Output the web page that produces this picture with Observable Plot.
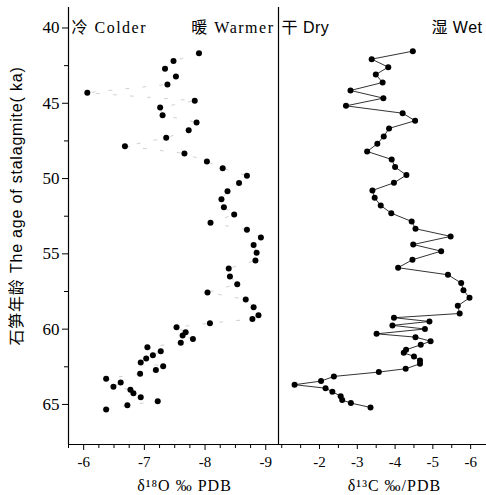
<!DOCTYPE html>
<html>
<head>
<meta charset="utf-8">
<script src="https://cdn.jsdelivr.net/npm/d3@7"></script>
<script src="https://cdn.jsdelivr.net/npm/@observablehq/plot@0.6"></script>
<style>
  body { margin: 0; background: white; }
  #wrap { position: relative; width: 486px; height: 495px; overflow: hidden; background: white; }
  #wrap > svg { position: absolute; top: 0; }
</style>
</head>
<body>
<div id="wrap"></div>
<script>
// δ18O panel (age ka, δ18O ‰ PDB)
const o18Age = [41.67,42.2,42.71,43.22,43.75,44.3,44.83,45.28,45.79,46.27,46.79,47.29,47.85,48.33,48.86,49.31,49.82,50.3,50.84,51.37,51.9,52.38,52.94,53.4,53.91,54.42,54.93,55.44,55.97,56.5,57.01,57.56,58.03,58.54,59.07,59.33,59.6,59.87,60.2,60.42,60.66,60.9,61.2,61.46,61.73,61.95,62.21,62.46,62.72,62.96,63.29,63.54,63.83,64.02,64.25,64.52,64.78,65.05,65.33];
const o18Val = [-7.90,-7.48,-7.34,-7.52,-7.38,-6.06,-7.83,-7.26,-7.30,-7.86,-7.73,-7.36,-6.68,-7.66,-8.03,-8.29,-8.69,-8.56,-8.37,-8.27,-8.31,-8.48,-8.09,-8.69,-8.92,-8.80,-8.85,-8.83,-8.39,-8.41,-8.53,-8.04,-8.67,-8.80,-8.88,-8.78,-8.08,-7.53,-7.68,-7.63,-7.80,-7.60,-7.05,-7.27,-7.14,-7.03,-6.94,-7.31,-7.19,-6.93,-6.37,-6.61,-6.49,-6.77,-6.82,-6.94,-7.22,-6.72,-6.37];

// δ13C panel (age ka, δ13C ‰ PDB)
const c13Age = [41.54,42.07,42.6,43.09,43.62,44.15,44.66,45.17,45.66,46.16,46.67,47.2,47.69,48.2,48.73,49.24,49.77,50.28,50.79,51.28,51.79,52.3,52.85,53.33,53.84,54.38,54.82,55.39,55.92,56.39,56.94,57.41,57.92,58.45,58.96,59.24,59.49,59.75,59.99,60.31,60.53,60.8,61.04,61.37,61.57,61.81,62.08,62.3,62.63,62.85,63.14,63.45,63.69,63.92,64.16,64.45,64.71,64.91,65.2];
const c13Val = [-4.47,-3.38,-3.82,-3.49,-3.67,-2.82,-3.69,-2.70,-4.20,-4.53,-3.84,-3.70,-3.53,-3.26,-3.91,-4.00,-4.30,-3.97,-3.40,-3.46,-3.62,-3.90,-4.44,-4.54,-5.47,-4.48,-5.22,-4.46,-4.08,-5.40,-5.75,-5.81,-5.97,-5.66,-5.71,-3.97,-4.91,-3.93,-4.79,-3.51,-4.54,-4.94,-4.68,-4.29,-4.23,-4.50,-4.66,-4.66,-4.28,-3.57,-2.38,-2.04,-1.34,-2.16,-2.34,-2.56,-2.60,-2.83,-3.35];

// ticks
const ageMajor = [40,45,50,55,60,65];
const ageMinor = [42.5,47.5,52.5,57.5,62.5];
const o18Major = [-6,-7,-8,-9];
const o18Minor = [-5.75,-6.25,-6.5,-6.75,-7.25,-7.5,-7.75,-8.25,-8.5,-8.75];
const c13Major = [-2,-3,-4,-5,-6];
const c13Minor = [-1,-1.5,-2.5,-3.5,-4.5,-5.5];

// labels
const yTitle = "石笋年龄 The age of stalagmite( ka)";
const o18Title = "δ¹⁸O ‰ PDB";
const c13Title = "δ¹³C ‰/PDB";
const leftTop = ["冷 Colder", "暖 Warmer"];
const rightTop = ["干 Dry", "湿 Wet"];

const o18 = o18Age.map((a, i) => ({age: a, v: o18Val[i]}));
const c13 = c13Age.map((a, i) => ({age: a, v: c13Val[i]}));

const yDomain = [38.64, 67.66];
const H = 495, MT = 7, MB = 51;
const serif = "'Liberation Serif', 'Noto Sans CJK SC', serif";
const sans = "'Liberation Sans', 'Noto Sans CJK SC', sans-serif";
const fmt = d => String(d);

const left = Plot.plot({
  width: 278, height: H, marginLeft: 68, marginRight: 0, marginTop: MT, marginBottom: MB,
  x: {domain: [-5.75, -9.21], axis: null},
  y: {domain: yDomain, reverse: true, axis: null},
  style: {fontFamily: serif, background: "transparent", overflow: "visible", color: "black"},
  marks: [
    Plot.axisY({ticks: ageMajor, tickSize: 6, tickPadding: 3, fontSize: 17, tickFormat: fmt, label: null, fontFamily: serif}),
    Plot.axisY({ticks: ageMinor, tickSize: 4, tickFormat: () => "", label: null}),
    Plot.axisX({ticks: o18Major, tickSize: 6, tickPadding: 6, fontSize: 15, tickFormat: fmt, label: null, fontFamily: serif}),
    Plot.axisX({ticks: o18Minor, tickSize: 4, tickFormat: () => "", label: null}),
    Plot.ruleX([-5.75], {strokeWidth: 1.2}),
    Plot.ruleX([-9.21], {strokeWidth: 1.2}),
    Plot.ruleY([67.66], {strokeWidth: 1.2}),
    Plot.line(o18, {x: "v", y: "age", stroke: "#c4c4c4", strokeWidth: 0.8, strokeDasharray: "3,14"}),
    Plot.dot(o18, {x: "v", y: "age", r: 3, fill: "black", stroke: null}),
    Plot.text([leftTop[0]], {frameAnchor: "top-left", dx: 3, dy: 20, lineAnchor: "middle", textAnchor: "start", fontSize: 16, fontFamily: serif}),
    Plot.text([leftTop[1]], {frameAnchor: "top-right", dx: -4, dy: 20, lineAnchor: "middle", textAnchor: "end", fontSize: 16, fontFamily: serif}),
    Plot.text([o18Title], {frameAnchor: "bottom", dx: 11, dy: 41, lineAnchor: "middle", fontSize: 16, fontFamily: serif}),
    Plot.text([yTitle], {frameAnchor: "left", dx: -52, dy: -20, rotate: -90, lineAnchor: "middle", textAnchor: "middle", fontSize: 16, fontFamily: sans})
  ]
});
left.style.left = "0px";

const right = Plot.plot({
  width: 208, height: H, marginLeft: 0, marginRight: 0, marginTop: MT, marginBottom: MB,
  x: {domain: [-0.914, -6.42], axis: null},
  y: {domain: yDomain, reverse: true, axis: null},
  style: {fontFamily: serif, background: "transparent", overflow: "visible", color: "black"},
  marks: [
    Plot.axisX({ticks: c13Major, tickSize: 5, tickPadding: 7, fontSize: 15, tickFormat: fmt, label: null, fontFamily: serif}),
    Plot.axisX({ticks: c13Minor, tickSize: 4, tickFormat: () => "", label: null}),
    Plot.ruleY([67.66], {strokeWidth: 1.2}),
    Plot.line(c13, {x: "v", y: "age", stroke: "black", strokeWidth: 0.8}),
    Plot.dot(c13, {x: "v", y: "age", r: 3, fill: "black", stroke: null}),
    Plot.text([rightTop[0]], {frameAnchor: "top-left", dx: 3, dy: 20, lineAnchor: "middle", textAnchor: "start", fontSize: 16, fontFamily: sans}),
    Plot.text([rightTop[1]], {frameAnchor: "top-right", dx: -4, dy: 20, lineAnchor: "middle", textAnchor: "end", fontSize: 16, fontFamily: sans}),
    Plot.text([c13Title], {frameAnchor: "bottom", dx: 12, dy: 41, lineAnchor: "middle", fontSize: 16, fontFamily: serif})
  ]
});
right.style.left = "278px";

const wrap = document.getElementById("wrap");
wrap.appendChild(left);
wrap.appendChild(right);

// letter spacing on the wide, spaced-out labels of the reference
const spaced = new Map([[leftTop[0], "1.5px"], [leftTop[1], "1.5px"], [yTitle, "0.8px"], [o18Title, "1px"], [c13Title, "1px"], [rightTop[0], "0.5px"], [rightTop[1], "0.5px"]]);
d3.select(wrap).selectAll("text").each(function() {
  const s = spaced.get(this.textContent);
  if (s) this.style.letterSpacing = s;
});
</script>
</body>
</html>
